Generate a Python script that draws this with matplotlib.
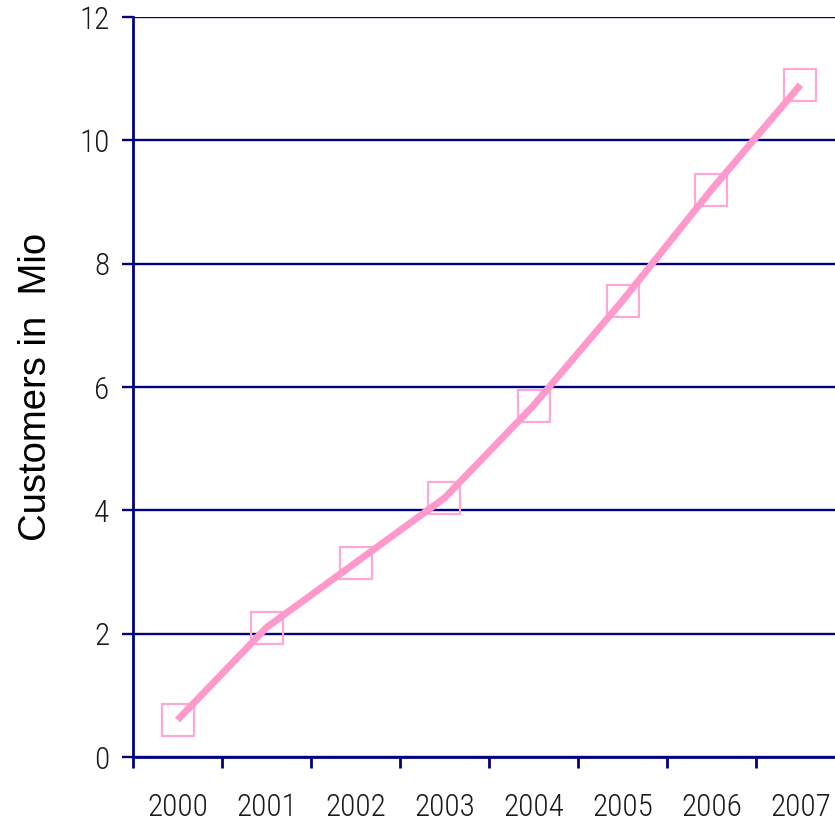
import numpy as np
import matplotlib.pyplot as plt
from matplotlib import font_manager
from matplotlib.ticker import FixedLocator

years = ['2000', '2001', '2002', '2003', '2004', '2005', '2006', '2007']
customers = [0.6, 2.1, 3.15, 4.2, 5.7, 7.4, 9.2, 10.9]
yticks = [0, 2, 4, 6, 8, 10, 12]

navy = '#000080'
pink = '#FF99CC'

# narrow font for the tick labels, if one is there
names = {f.name for f in font_manager.fontManager.ttflist}
tickfont = 'Liberation Sans'
for cand in ['Liberation Sans Narrow', 'Roboto Condensed', 'Open Sans Condensed']:
    if cand in names:
        tickfont = cand
        break
tsize = 22.5 if tickfont != 'Liberation Sans' else 19

fig = plt.figure(figsize=(8.35, 8.21), dpi=100)
ax = fig.add_axes([133/835, 64/821, 712/835, 740/821])

x = np.arange(len(years))
ax.plot(x, customers, color=pink, lw=5, zorder=3, solid_capstyle='butt')
ax.plot(x, customers, ls='none', marker='s', ms=23.5, mfc='none', mec='#FFA8D6', mew=1.6, zorder=2)

ax.set_xlim(-0.5, 7.5)
ax.set_ylim(0, 12)
ax.set_yticks(yticks)
ax.set_yticklabels([str(v) for v in yticks], fontsize=tsize, family=tickfont, weight='light')
ax.grid(axis='y', color=navy, lw=1.7)
ax.set_axisbelow(True)

ax.xaxis.set_major_locator(FixedLocator(np.arange(-0.5, 8, 1)))
ax.xaxis.set_minor_locator(FixedLocator(x))
ax.set_xticklabels([''] * 9)
ax.set_xticklabels(years, minor=True, fontsize=tsize, family=tickfont, weight='light')
ax.tick_params(axis='x', which='major', direction='out', length=8, width=2, color=navy)
ax.tick_params(axis='x', which='minor', length=0, pad=26)
ax.tick_params(axis='y', direction='out', length=8, width=1.7, color=navy, pad=9)
for t in ax.get_yticklabels() + ax.get_xticklabels(minor=True):
    t.set_color('#1a1a1a')

for s in ['top', 'right']:
    ax.spines[s].set_visible(False)
for s in ['left', 'bottom']:
    ax.spines[s].set_color(navy)
    ax.spines[s].set_linewidth(2)

ax.set_ylabel('Customers in  Mio', fontsize=27.5, family='Liberation Sans', labelpad=18)

fig.savefig('out.png', dpi=100)
